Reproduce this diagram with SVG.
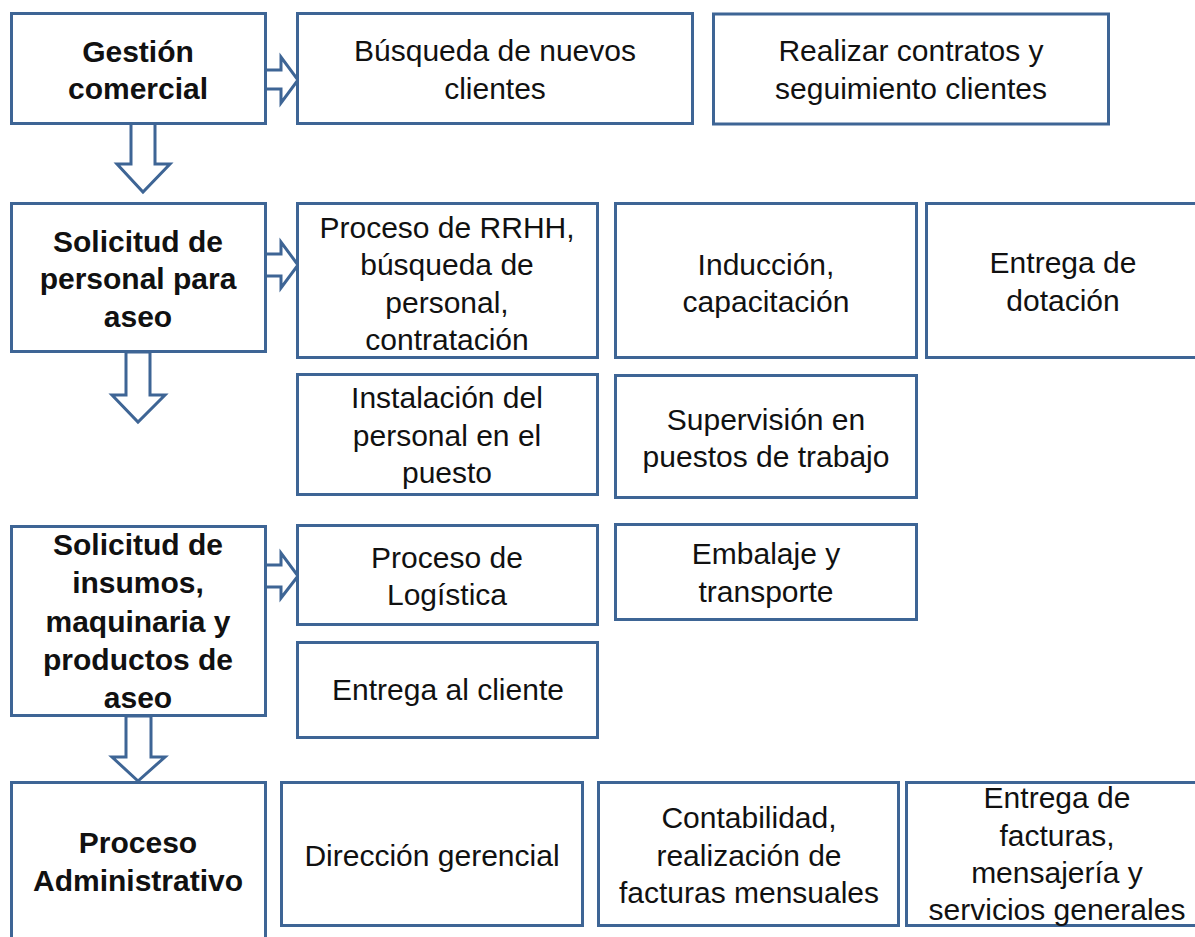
<svg xmlns="http://www.w3.org/2000/svg" width="1195" height="937" viewBox="0 0 1195 937">
<style>
.b{fill:#fff;stroke:#3E6595;stroke-width:3}
.a{fill:#fff;stroke:#3E6595;stroke-width:3;stroke-linejoin:miter}
text{font-family:"Liberation Sans",Arial,sans-serif;font-size:30px;fill:#111;text-anchor:middle}
.h{font-weight:bold}
</style>
<rect width="1195" height="937" fill="#fff"/>
<g id="connectors">
<polygon class="a" points="265,70 281,70 281,57 298,80 281,103 281,89 265,89"/>
<polygon class="a" points="265,254 281,254 281,242 298,265 281,288 281,276 265,276"/>
<polygon class="a" points="265,565 281,565 281,553 298,576 281,598 281,587 265,587"/>
<polygon class="a" points="131,123 155,123 155,164 170,164 143,192 117,164 131,164"/>
<polygon class="a" points="126,352 150,352 150,395 165,395 138,422 112,395 126,395"/>
<polygon class="a" points="126,716 151,716 151,757 165,757 138,781 112,757 126,757"/>
</g>
<g id="n1"><rect class="b" x="11.5" y="13.5" width="254" height="110"/><text class="h" x="138" y="62">Gestión</text><text class="h" x="138" y="99">comercial</text></g>
<g id="n2"><rect class="b" x="297.5" y="13.5" width="395" height="110"/><text x="495" y="61">Búsqueda de nuevos</text><text x="495" y="99">clientes</text></g>
<g id="n3"><rect class="b" x="713.5" y="14" width="395" height="110"/><text x="911" y="61">Realizar contratos y</text><text x="911" y="99">seguimiento clientes</text></g>
<g id="n4"><rect class="b" x="11.5" y="203.5" width="254" height="148"/><text class="h" x="138" y="252">Solicitud de</text><text class="h" x="138" y="289">personal para</text><text class="h" x="138" y="327">aseo</text></g>
<g id="n5"><rect class="b" x="297.5" y="203.5" width="300" height="154"/><text x="447" y="238">Proceso de RRHH,</text><text x="447" y="275">búsqueda de</text><text x="447" y="313">personal,</text><text x="447" y="350">contratación</text></g>
<g id="n6"><rect class="b" x="615.5" y="203.5" width="301" height="154"/><text x="766" y="275">Inducción,</text><text x="766" y="312">capacitación</text></g>
<g id="n7"><rect class="b" x="926.5" y="203.5" width="300" height="154"/><text x="1063" y="273">Entrega de</text><text x="1063" y="311">dotación</text></g>
<g id="n8"><rect class="b" x="297.5" y="374.5" width="300" height="120"/><text x="447" y="408">Instalación del</text><text x="447" y="446">personal en el</text><text x="447" y="483">puesto</text></g>
<g id="n9"><rect class="b" x="615.5" y="375.5" width="301" height="122"/><text x="766" y="430">Supervisión en</text><text x="766" y="467">puestos de trabajo</text></g>
<g id="n10"><rect class="b" x="11.5" y="526.5" width="254" height="189"/><text class="h" x="138" y="555">Solicitud de</text><text class="h" x="138" y="593">insumos,</text><text class="h" x="138" y="632">maquinaria y</text><text class="h" x="138" y="670">productos de</text><text class="h" x="138" y="708">aseo</text></g>
<g id="n11"><rect class="b" x="297.5" y="525.5" width="300" height="99"/><text x="447" y="568">Proceso de</text><text x="447" y="605">Logística</text></g>
<g id="n12"><rect class="b" x="615.5" y="524.5" width="301" height="95"/><text x="766" y="564">Embalaje y</text><text x="766" y="602">transporte</text></g>
<g id="n13"><rect class="b" x="297.5" y="642.5" width="300" height="95"/><text x="448" y="700">Entrega al cliente</text></g>
<g id="n14"><rect class="b" x="11.5" y="782.5" width="254" height="200"/><text class="h" x="138" y="853">Proceso</text><text class="h" x="138" y="891">Administrativo</text></g>
<g id="n15"><rect class="b" x="281.5" y="782.5" width="301" height="143"/><text x="432" y="866">Dirección gerencial</text></g>
<g id="n16"><rect class="b" x="598.5" y="782.5" width="300" height="143"/><text x="749" y="828">Contabilidad,</text><text x="749" y="866">realización de</text><text x="749" y="903">facturas mensuales</text></g>
<g id="n17"><rect class="b" x="906.5" y="782.5" width="300" height="143"/><text x="1057" y="808">Entrega de</text><text x="1057" y="846">facturas,</text><text x="1057" y="883">mensajería y</text><text x="1057" y="920">servicios generales</text></g>
</svg>
